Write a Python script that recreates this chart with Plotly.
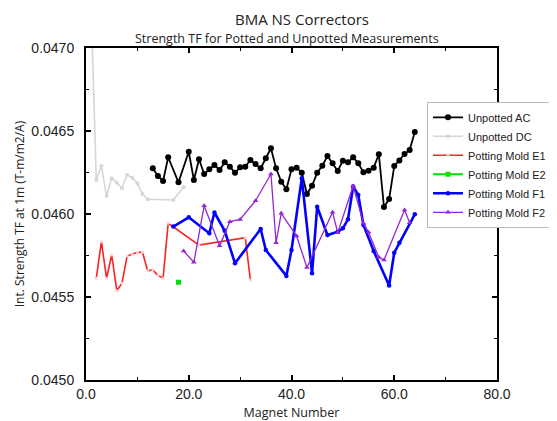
import plotly.graph_objects as go

# ---- data ----
ac_x = [13, 14, 15, 16, 18, 20, 21, 22, 23, 24, 25, 26, 27, 28, 29, 30, 31, 32, 33, 34, 35, 36,
        37, 38, 39, 40, 41, 42, 43, 44, 45, 46, 47, 48, 49, 50, 51, 52, 53, 54, 55, 56, 57, 58,
        59, 60, 61, 62, 63, 64]
ac_y = [0.046275, 0.046229, 0.046199, 0.046342, 0.046191, 0.046375, 0.046205, 0.046330, 0.046241,
        0.046269, 0.046295, 0.046265, 0.046311, 0.046285, 0.046249, 0.046281, 0.046285, 0.046325,
        0.046301, 0.046275, 0.046336, 0.046396, 0.046275, 0.046195, 0.046149, 0.046269, 0.046279,
        0.046249, 0.046120, 0.046170, 0.046249, 0.046291, 0.046349, 0.046305, 0.046259, 0.046321,
        0.046311, 0.046342, 0.046305, 0.046251, 0.046261, 0.046279, 0.046360, 0.046042, 0.046090,
        0.046289, 0.046322, 0.046361, 0.046386, 0.046494]

dc_x = [1, 2, 3, 4, 5, 6, 7, 8, 9, 10, 11, 12, 17, 19]
dc_y = [0.04724, 0.046205, 0.046289, 0.046108, 0.046215, 0.046189, 0.046155, 0.046235, 0.046219,
        0.046185, 0.046120, 0.046089, 0.046084, 0.046161]

e1_x = [2, 3, 4, 5, 6, 7, 8, 9, 10, 11, 12, 13, 14, 15, 16, 22, 31, 32]
e1_y = [0.045613, 0.045833, 0.045613, 0.045753, 0.045538, 0.045583, 0.045747, 0.045756, 0.045769,
        0.045769, 0.045658, 0.045663, 0.045630, 0.045613, 0.045944, 0.045813, 0.045857, 0.045602]

e2_x = [18]
e2_y = [0.045589]

f1_x = [17, 20, 24, 25, 27, 29, 34, 35, 39, 40, 42, 44, 45, 47, 49, 50, 51, 52, 53, 54, 56, 59,
        60, 61, 64]
f1_y = [0.045924, 0.045980, 0.045884, 0.046009, 0.045899, 0.045703, 0.045910, 0.045783, 0.045627,
        0.045783, 0.046215, 0.045643, 0.046044, 0.045873, 0.045893, 0.045914, 0.045968, 0.046166,
        0.046114, 0.045934, 0.045777, 0.045569, 0.045767, 0.045827, 0.045998]

f2_x = [19, 21, 23, 26, 28, 30, 33, 36, 37, 38, 41, 43, 48, 49, 52, 54, 55, 57, 58, 62, 63]
f2_y = [0.045777, 0.045709, 0.046050, 0.045809, 0.045954, 0.045967, 0.046080, 0.046241, 0.045827,
        0.046004, 0.045867, 0.045678, 0.046010, 0.045887, 0.046169, 0.045944, 0.045890, 0.045739,
        0.045723, 0.046024, 0.045948]

x_tickvals = [0, 20, 40, 60, 80]
x_ticktext = ["0.0", "20.0", "40.0", "60.0", "80.0"]
y_tickvals = [0.0450, 0.0455, 0.0460, 0.0465, 0.0470]
y_ticktext = ["0.0450", "0.0455", "0.0460", "0.0465", "0.0470"]

fig = go.Figure()
fig.add_trace(go.Scatter(x=ac_x, y=ac_y, name="Unpotted AC", mode="lines+markers",
                         line=dict(color="black", width=1.8),
                         marker=dict(color="black", size=6, symbol="circle")))
fig.add_trace(go.Scatter(x=dc_x, y=dc_y, name="Unpotted DC", mode="lines+markers",
                         line=dict(color="#d6d6d6", width=1.6),
                         marker=dict(color="#d6d6d6", size=4, symbol="circle")))
fig.add_trace(go.Scatter(x=e1_x, y=e1_y, name="Potting Mold E1", mode="lines+markers",
                         line=dict(color="#ff2020", width=1.6),
                         marker=dict(color="#ffd0d0", size=3, symbol="circle")))
fig.add_trace(go.Scatter(x=e2_x, y=e2_y, name="Potting Mold E2", mode="lines+markers",
                         line=dict(color="#00e000", width=2),
                         marker=dict(color="#00e000", size=5, symbol="square")))
fig.add_trace(go.Scatter(x=f1_x, y=f1_y, name="Potting Mold F1", mode="lines+markers",
                         line=dict(color="#0000ff", width=2.6),
                         marker=dict(color="#0000ff", size=4.5, symbol="circle")))
fig.add_trace(go.Scatter(x=f2_x, y=f2_y, name="Potting Mold F2", mode="lines+markers",
                         line=dict(color="#9426d4", width=1.3),
                         marker=dict(color="#9426d4", size=5, symbol="triangle-up")))

tickfont = dict(family="Liberation Sans, Arial, sans-serif", size=14, color="#222")
fig.update_xaxes(range=[0, 80], tickvals=x_tickvals, ticktext=x_ticktext,
                 ticks="inside", ticklen=5, tickwidth=1.5, tickcolor="black",
                 minor=dict(dtick=10, ticks="inside", ticklen=3, tickwidth=1, tickcolor="black"),
                 showline=True, linewidth=2, linecolor="black", mirror="allticks",
                 showgrid=False, zeroline=False, tickfont=tickfont, automargin=False,
                 ticklabelstandoff=0,
                 title=dict(text="Magnet Number", standoff=7,
                            font=dict(family="Open Sans, sans-serif", size=12.5, color="#222")))
fig.update_yaxes(range=[0.0450, 0.0470], tickvals=y_tickvals, ticktext=y_ticktext,
                 ticks="inside", ticklen=5, tickwidth=1.5, tickcolor="black",
                 minor=dict(dtick=0.00025, ticks="inside", ticklen=3, tickwidth=1, tickcolor="black"),
                 showline=True, linewidth=2, linecolor="black", mirror="allticks",
                 showgrid=False, zeroline=False, tickfont=tickfont, automargin=False,
                 ticklabelstandoff=7,
                 title=dict(text="Int. Strength TF at 1m (T-m/m2/A)", standoff=4,
                            font=dict(family="Open Sans, sans-serif", size=12, color="#222")))

# the page adds an 8px body margin, so the figure is placed 8px in from the window edge
fig.update_layout(
    width=549, height=413,
    margin=dict(l=78, r=60, t=40, b=41, autoexpand=False),
    paper_bgcolor="white", plot_bgcolor="white",
    showlegend=True,
    legend=dict(x=0.8297, y=0.838, xanchor="left", yanchor="top",
                bgcolor="white", bordercolor="#bbbbbb", borderwidth=1,
                font=dict(family="Liberation Sans, Arial, sans-serif", size=11, color="#222"),
                itemwidth=30, tracegroupgap=0),
    annotations=[
        dict(text="BMA NS Correctors", xref="paper", yref="paper", x=0.5255, y=1.1195,
             xanchor="center", yanchor="top", showarrow=False, borderpad=0,
             font=dict(family="Open Sans, sans-serif", size=15, color="#222")),
        dict(text="Strength TF for Potted and Unpotted Measurements", xref="paper", yref="paper",
             x=0.489, y=1.029, xanchor="center", yanchor="middle", showarrow=False, borderpad=0,
             font=dict(family="Open Sans, sans-serif", size=12.5, color="#222")),
    ],
)

fig.write_html("out.html")
